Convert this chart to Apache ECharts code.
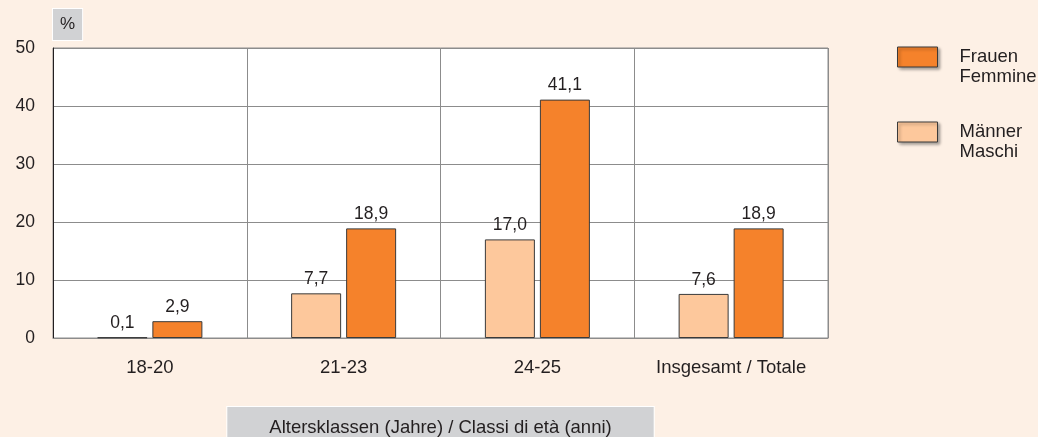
<!DOCTYPE html>
<html>
<head>
<meta charset="utf-8">
<script src="https://cdn.jsdelivr.net/npm/echarts@6/dist/echarts.min.js"></script>
<style>
  html, body { margin: 0; padding: 0; background: #fdf0e5; }
  #chart { width: 1038px; height: 437px; }
</style>
</head>
<body>
<div id="chart"></div>
<script>
  // Altersklassen / Classi di età
  var categories = ["18-20", "21-23", "24-25", "Insgesamt / Totale"];
  var maenner = [0.1, 7.7, 17.0, 7.6];
  var frauen = [2.9, 18.9, 41.1, 18.9];
  var yTicks = [0, 10, 20, 30, 40, 50];

  var TXT = "#231f20";
  var FONT = "Liberation Sans, Arial, sans-serif";

  function fmt(v) {
    return v.toFixed(1).replace(".", ",");
  }

  var chart = echarts.init(document.getElementById("chart"), null, { renderer: "canvas" });

  var barLabel = {
    show: true,
    position: "top",
    distance: 5,
    color: TXT,
    fontSize: 17.5,
    fontFamily: FONT,
    formatter: function (p) { return fmt(p.value); }
  };

  chart.setOption({
    backgroundColor: "#fdf0e5",
    animation: false,
    grid: {
      left: 53, right: 210, top: 48, bottom: 99,
      outerBoundsMode: "none",
      containLabel: false,
      show: true,
      backgroundColor: "#ffffff",
      borderColor: "#8c8c8c",
      borderWidth: 1
    },
    legend: {
      data: ["Frauen\nFemmine", "Männer\nMaschi"],
      orient: "vertical",
      left: 897,
      top: 27,
      padding: 0,
      itemWidth: 40,
      itemHeight: 20,
      itemGap: 15,
      icon: "rect",
      selectedMode: false,
      // blank first line keeps the name's first line level with the swatch
      formatter: function (name) { return "\n" + name; },
      itemStyle: {
        borderColor: "#3a3a3a",
        borderWidth: 1,
        shadowColor: "rgba(0,0,0,0.35)",
        shadowBlur: 3,
        shadowOffsetX: 2,
        shadowOffsetY: 2
      },
      textStyle: {
        color: TXT,
        fontSize: 18.5,
        fontFamily: FONT,
        lineHeight: 20,
        padding: [0, 0, 0, 17]
      }
    },
    xAxis: {
      type: "category",
      data: categories,
      boundaryGap: true,
      axisLine: { show: true, lineStyle: { color: "#8c8c8c", width: 1 } },
      axisTick: { show: false },
      axisLabel: { color: TXT, fontSize: 18.5, fontFamily: FONT, margin: 20, interval: 0, hideOverlap: false },
      splitLine: { show: true, interval: 0, lineStyle: { color: "#8c8c8c", width: 1 } },
      name: "Altersklassen (Jahre) / Classi di età (anni)",
      nameLocation: "middle",
      nameGap: 69,
      nameTextStyle: {
        color: TXT,
        fontSize: 18.5,
        fontFamily: FONT,
        lineHeight: 20,
        backgroundColor: "#d1d2d4",
        borderColor: "#ffffff",
        borderWidth: 1,
        padding: [11, 42, 12, 42],
        verticalAlign: "top"
      }
    },
    yAxis: {
      type: "value",
      min: yTicks[0],
      max: yTicks[yTicks.length - 1],
      interval: 10,
      axisLine: { show: true, lineStyle: { color: "#231f20", width: 1 } },
      axisTick: { show: false },
      axisLabel: { color: TXT, fontSize: 17.5, fontFamily: FONT, margin: 18 },
      splitLine: { show: true, lineStyle: { color: "#8c8c8c", width: 1 } },
      name: "%",
      nameLocation: "end",
      nameGap: 8,
      nameTextStyle: {
        color: TXT,
        fontSize: 17,
        fontFamily: FONT,
        lineHeight: 19,
        align: "left",
        verticalAlign: "bottom",
        backgroundColor: "#d1d2d4",
        borderColor: "#ffffff",
        borderWidth: 1,
        padding: [6, 7, 6, 7]
      }
    },
    series: [
      {
        name: "Männer\nMaschi",
        type: "bar",
        data: maenner,
        barWidth: 50,
        barGap: "10%",
        itemStyle: { color: "#fdc89c", borderColor: "#3a3a3a", borderWidth: 1 },
        label: barLabel
      },
      {
        name: "Frauen\nFemmine",
        type: "bar",
        data: frauen,
        barWidth: 50,
        barGap: "10%",
        itemStyle: { color: "#f5822b", borderColor: "#3a3a3a", borderWidth: 1 },
        label: barLabel
      }
    ]
  });
</script>
</body>
</html>
